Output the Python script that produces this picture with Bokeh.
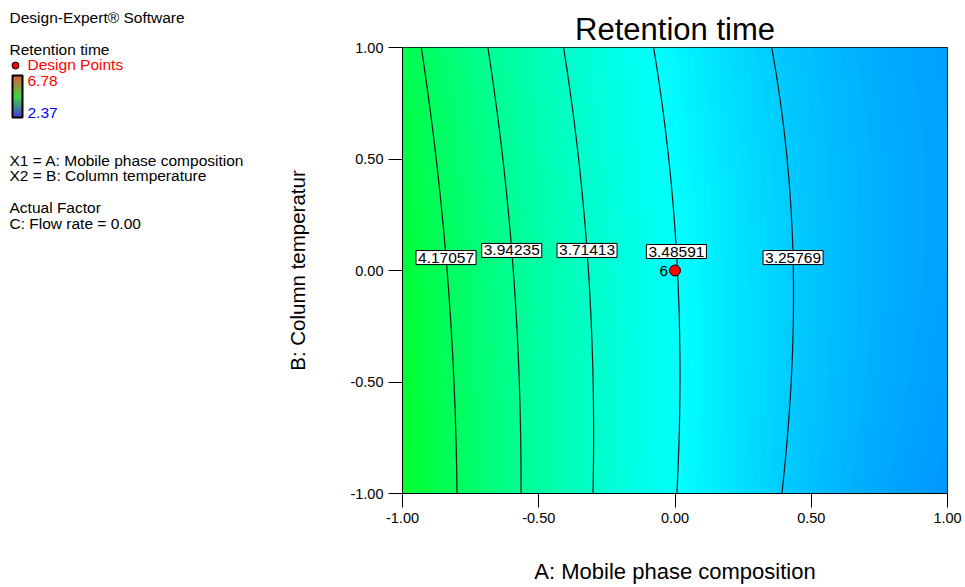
import numpy as np
from bokeh.plotting import figure
from bokeh.models import Range1d, FixedTicker, PrintfTickFormatter, LinearColorMapper, Label
from bokeh.layouts import row, column
from bokeh.core.properties import value
from bokeh.embed import file_html
from bokeh.resources import INLINE

# ---------------- data ----------------
chart_title = "Retention time"
x_label = "A: Mobile phase composition"
y_label = "B: Column temperatur"
response_low = 2.37
response_high = 6.78
# quadratic response-surface coefficients (coded units), estimated from the contour positions
coef_b0 = 3.4916
coef_a = -0.632
coef_b = -0.026
coef_aa = 0.215
coef_bb = -0.027
coef_ab = 0.046
contour_levels = [4.17057, 3.94235, 3.71413, 3.48591, 3.25769]
contour_label_text = ["4.17057", "3.94235", "3.71413", "3.48591", "3.25769"]
design_x = [0.0]
design_y = [0.0]
design_count = ["6"]
tick_values = [-1.0, -0.5, 0.0, 0.5, 1.0]

legend_texts = ["Design-Expert\u00ae Software", "Retention time", "Design Points", "6.78", "2.37",
                "X1 = A: Mobile phase composition", "X2 = B: Column temperature",
                "Actual Factor", "C: Flow rate = 0.00"]
legend_colors = ["black", "black", "red", "red", "blue", "black", "black", "black", "black"]

# ---------------- layout / style ----------------
FONT = "Liberation Sans"
LEFT_W = 270
FRAME_TOP, FRAME_BOTTOM = 47, 493
legend_x = [9, 9, 27, 27, 27, 9, 9, 9, 9]
legend_y = [17, 49, 64, 80, 112, 160, 175, 207, 223]
label_y_pos = [0.058, 0.09, 0.09, 0.085, 0.058]


def rgb_hex(c):
    return "#%02x%02x%02x" % tuple(int(round(v)) for v in c)


def make_palette(stops, n):
    out = []
    k = len(stops) - 1
    for i in range(n):
        t = i / (n - 1) * k
        j = min(int(t), k - 1)
        f = t - j
        c = [stops[j][m] + (stops[j + 1][m] - stops[j][m]) * f for m in range(3)]
        out.append(rgb_hex(c))
    return out


palette = make_palette([(0, 0, 255), (0, 255, 255), (0, 255, 0), (255, 255, 0), (255, 0, 0)], 256)


def response(a, b):
    return (coef_b0 + coef_a * a + coef_b * b + coef_aa * a * a + coef_bb * b * b + coef_ab * a * b)


# ---------------- main plot ----------------
p = figure(width=965 - LEFT_W, height=587, x_range=Range1d(-1, 1), y_range=Range1d(-1, 1),
           output_backend="svg", toolbar_location=None, title=chart_title,
           min_border_left=402 - LEFT_W, min_border_right=18,
           min_border_top=FRAME_TOP, min_border_bottom=587 - FRAME_BOTTOM)
p.grid.visible = False
p.outline_line_color = "black"
p.outline_line_width = 1
p.background_fill_color = "white"

p.title.align = "center"
p.title.offset = -5
p.title.text_font = FONT
p.title.text_font_size = "31px"
p.title.text_font_style = "normal"
p.title.text_color = "black"
p.title.standoff = 1

gx = np.linspace(-1, 1, 241)
gy = np.linspace(-1, 1, 241)
GX, GY = np.meshgrid(gx, gy)
Z = response(GX, GY)

mapper = LinearColorMapper(palette=palette, low=response_low, high=response_high)
p.image(image=[Z], x=-1, y=-1, dw=2, dh=2, color_mapper=mapper)
p.contour(gx, gy, Z, levels=sorted(contour_levels), line_color="#0a1a1a", line_width=1.2)

# contour labels
for lvl, txt, ly in zip(contour_levels, contour_label_text, label_y_pos):
    qa = coef_aa
    qb = coef_a + coef_ab * ly
    qc = coef_b0 + coef_b * ly + coef_bb * ly * ly - lvl
    roots = np.roots([qa, qb, qc])
    roots = [r.real for r in roots if abs(r.imag) < 1e-9 and -1.2 <= r.real <= 1.2]
    lx = roots[0]
    p.add_layout(Label(x=lx, y=ly, text=txt, text_align="center", text_baseline="middle",
                       text_font=FONT, text_font_size="15.5px", text_color="black",
                       background_fill_color="white", border_line_color="black",
                       border_line_width=1, padding=2))

p.scatter(design_x, design_y, size=11, marker="circle", fill_color="red", line_color="black", line_width=1)
p.text(design_x, design_y, text=design_count, x_offset=-7, text_align="right", text_baseline="middle",
       text_font=value(FONT), text_font_size=value("15.5px"), text_color="black")

for ax in (p.xaxis[0], p.yaxis[0]):
    ax.ticker = FixedTicker(ticks=tick_values)
    ax.formatter = PrintfTickFormatter(format="%.2f")
    ax.major_tick_out = 14
    ax.major_tick_in = 0
    ax.minor_tick_out = 0
    ax.minor_tick_in = 0
    ax.axis_line_color = "black"
    ax.major_tick_line_color = "black"
    ax.major_label_text_font = FONT
    ax.major_label_text_font_size = "14.5px"
    ax.major_label_text_color = "black"
    ax.major_label_standoff = 5
    ax.axis_label_text_font = FONT
    ax.axis_label_text_font_style = "normal"
    ax.axis_label_text_color = "black"
p.xaxis.axis_label = x_label
p.yaxis.axis_label = y_label
p.xaxis.axis_label_text_font_size = "22px"
p.yaxis.axis_label_text_font_size = "20.5px"
p.xaxis.axis_label_standoff = 33
p.yaxis.axis_label_standoff = 38

# ---------------- left legend panel (data y = page pixel y) ----------------
left = figure(width=LEFT_W, height=587, x_range=Range1d(0, LEFT_W), y_range=Range1d(587, 0),
              output_backend="svg", toolbar_location=None, min_border=0,
              x_axis_location=None, y_axis_location=None)
left.grid.visible = False
left.outline_line_color = None
left.background_fill_color = "white"

for tx, ty, tt, tc in zip(legend_x, legend_y, legend_texts, legend_colors):
    left.add_layout(Label(x=tx, y=ty, text=tt, text_color=tc, text_align="left",
                          text_baseline="alphabetic", text_font=FONT, text_font_size="15.5px"))
left.scatter([15], [65], size=7, marker="circle", fill_color="red", line_color="black", line_width=1)

bar_pal = make_palette([(0, 0, 210), (0, 200, 0), (210, 40, 0)], 42)
bar_top, bar_bot = 75, 117
nb = len(bar_pal)
edges = np.linspace(bar_bot, bar_top, nb + 1)
left.quad(left=[12] * nb, right=[22] * nb, top=list(edges[1:]), bottom=list(edges[:-1]),
          fill_color=bar_pal, line_color=None)
left.quad(left=[12], right=[22], top=[bar_top], bottom=[bar_bot], fill_color=None,
          line_color="black", line_width=2)

layout = row(column(left), p)
open("out.html", "w").write(file_html(layout, INLINE))
